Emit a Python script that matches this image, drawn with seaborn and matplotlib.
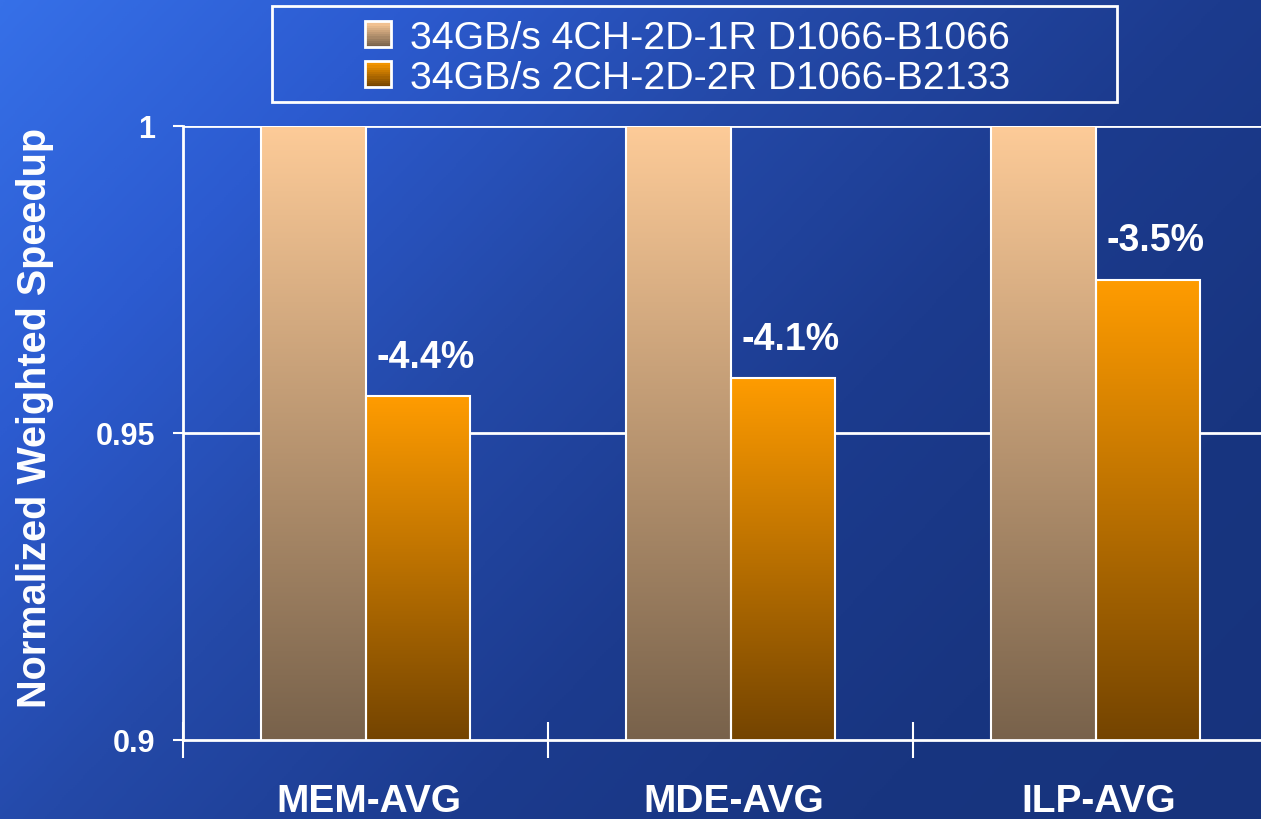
import numpy as np
import pandas as pd
import seaborn as sns
import matplotlib
matplotlib.use('Agg')
from matplotlib import pyplot as plt
from matplotlib.colors import LinearSegmentedColormap, to_rgb
from matplotlib.patches import Rectangle
from matplotlib.legend_handler import HandlerBase

categories = ['MEM-AVG', 'MDE-AVG', 'ILP-AVG']
series = ['34GB/s 4CH-2D-1R D1066-B1066', '34GB/s 2CH-2D-2R D1066-B2133']
base_vals = [1.0, 1.0, 1.0]
new_vals = [0.956, 0.959, 0.975]
deltas = ['-4.4%', '-4.1%', '-3.5%']
yticks = [0.9, 0.95, 1.0]
ytick_labels = ['0.9', '0.95', '1']

# top / bottom colours of the bar gradients
grad_top = ['#fdcb98', '#ff9c00']
grad_bot = ['#78624b', '#744400']

sns.set_theme(style='white')
plt.rcParams['font.family'] = ['Liberation Sans', 'DejaVu Sans']

df = pd.DataFrame({
    'cat': categories * 2,
    'series': [series[0]] * 3 + [series[1]] * 3,
    'val': base_vals + new_vals,
})

fig = plt.figure(figsize=(12.61, 8.2), dpi=100)

# blue slide background
bg = fig.add_axes([0, 0, 1, 1], zorder=-10)
yy, xx = np.mgrid[0:1:400j, 0:1:600j]
t = 0.62 * xx + 0.38 * yy
bg_cmap = LinearSegmentedColormap.from_list(
    'bg', ['#3670e8', '#2c5bd0', '#2449a8', '#1c3b8e', '#183580', '#17337c'])
bg.imshow(t, cmap=bg_cmap, aspect='auto', extent=[0, 1, 0, 1], origin='upper')
bg.axis('off')

ax = fig.add_axes([183 / 1261, 79 / 820, 1095 / 1261, 614 / 820])
ax.patch.set_alpha(0)

sns.barplot(data=df, x='cat', y='val', hue='series', hue_order=series,
            order=categories, width=0.57, ax=ax, legend=False,
            edgecolor='white', linewidth=1.5, zorder=3)

ax.set_ylim(0.9, 1.0)
ax.set_xlim(-0.5, 2.5)

# gradient fill for each bar, spanning the bar's own height
for i, cont in enumerate(ax.containers):
    cmap = LinearSegmentedColormap.from_list('g%d' % i, [grad_bot[i], grad_top[i]])
    for bar in cont:
        x0 = bar.get_x()
        w = bar.get_width()
        h = bar.get_height()
        bar.set_facecolor('none')
        grad = np.linspace(0, 1, 256).reshape(-1, 1)
        im = ax.imshow(grad, cmap=cmap, aspect='auto', origin='lower',
                       extent=[x0, x0 + w, 0.9, h], zorder=2)
        im.set_clip_path(bar)

for k, cont in enumerate(ax.containers[1]):
    ax.annotate(deltas[k], (cont.get_x() + cont.get_width() / 2, cont.get_height()),
                xytext=(6, 21), textcoords='offset points', ha='center', va='baseline',
                color='white', fontsize=27, fontweight='bold')

# grid and spines
for yv in yticks[1:]:
    ax.axhline(yv, color='white', lw=2, zorder=1)
for s in ['top', 'right']:
    ax.spines[s].set_visible(False)
for s in ['left', 'bottom']:
    ax.spines[s].set_color('white')
    ax.spines[s].set_linewidth(2)
    ax.spines[s].set_zorder(4)

ax.set_yticks(yticks)
ax.set_yticklabels(ytick_labels)
ax.tick_params(axis='y', colors='white', length=7, width=1.5, direction='out',
               labelsize=22, pad=13, left=True)
for lab in ax.get_yticklabels():
    lab.set_fontweight('bold')

ax.set_xticks([0, 1, 2])
ax.set_xticklabels([])
for k, c in enumerate(categories):
    ax.text(k + 0.01, -0.115, c, transform=ax.get_xaxis_transform(), ha='center',
            va='baseline', fontsize=28, fontweight='bold', color='white')
ax.tick_params(axis='x', length=0)
ax.set_xticks([-0.5, 0.5, 1.5], minor=True)
ax.tick_params(axis='x', which='minor', direction='inout', length=26, width=1.5,
               color='white', bottom=True)

ax.set_xlabel('')
ax.set_ylabel('Normalized Weighted Speedup', color='white', fontsize=28.5,
              fontweight='bold')
ax.yaxis.set_label_coords(-0.118, 0.526)


# legend with striped gradient squares
class GradHandler(HandlerBase):
    def __init__(self, idx):
        super().__init__()
        self.idx = idx

    def create_artists(self, legend, orig_handle, xdescent, ydescent, width, height,
                       fontsize, trans):
        n = 12
        side = height * 0.95
        x0 = width - side
        y0 = (height - side) / 2
        top = np.array(to_rgb(grad_top[self.idx]))
        bot = np.array(to_rgb(grad_bot[self.idx]))
        arts = []
        for j in range(n):
            c = bot + (top - bot) * (j / (n - 1))
            arts.append(Rectangle((x0, y0 + side * j / n), side, side / n + 0.3,
                                  facecolor=c, edgecolor='none', transform=trans))
        arts.append(Rectangle((x0, y0), side, side, facecolor='none',
                              edgecolor='white', lw=2, transform=trans))
        return arts


h1 = Rectangle((0, 0), 1, 1)
h2 = Rectangle((0, 0), 1, 1)
leg = fig.legend([h1, h2], series, handler_map={h1: GradHandler(0), h2: GradHandler(1)},
                 loc='center', bbox_to_anchor=(686 / 1261, 1 - 59 / 820), frameon=False,
                 fontsize=28.3, labelcolor='white', handlelength=0.75, handletextpad=0.5,
                 labelspacing=0.1, borderpad=0)
fig.patches.append(Rectangle((272 / 1261, 1 - 103 / 820), 845 / 1261, 96 / 820,
                             transform=fig.transFigure, facecolor='none',
                             edgecolor='white', lw=2))

fig.savefig('out.png', dpi=100)
